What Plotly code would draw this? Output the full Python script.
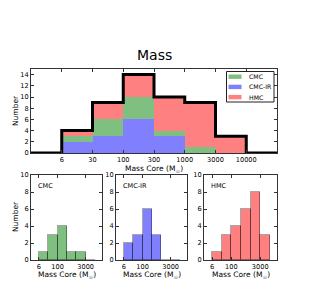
import plotly.graph_objects as go

# ---- data ----
bin_edges_labels = ["6", "30", "100", "300", "1000", "3000", "10000"]
cmc = [1, 3, 4, 1, 1, 0]
cmc_ir = [2, 3, 6, 3, 0, 0]
hmc = [1, 3, 4, 6, 8, 3]
series_names = ["CMC", "CMC-IR", "HMC"]
series_vals = [cmc, cmc_ir, hmc]
colors = {"CMC": "rgb(127,191,127)", "CMC-IR": "rgb(128,128,255)", "HMC": "rgb(255,128,128)"}
small_tick_idx = [0, 2, 5]

OFF = 8  # page body margin
W, H = 311 - OFF, 301 - OFF
FONT = "DejaVu Sans"

def px(x):
    return (x - OFF) / W

def py(y):
    return 1 - (y - OFF) / H

def xd(a, b):
    return [px(a), px(b)]

def yd(top, bottom):
    return [py(bottom), py(top)]

nb = len(cmc)
centers = [i + 0.5 for i in range(nb)]
edges = list(range(len(bin_edges_labels)))

fig = go.Figure()

stack_order = ["CMC-IR", "CMC", "HMC"]
vals = dict(zip(series_names, series_vals))
for name in stack_order:
    fig.add_trace(go.Bar(x=centers, y=vals[name], width=1, name=name,
                         marker=dict(color=colors[name], line=dict(width=0)),
                         showlegend=False, xaxis="x", yaxis="y"))

totals = [a + b + c for a, b, c in zip(cmc, cmc_ir, hmc)]
step_x = [-1] + edges + [7]
step_y = [0] + totals + [0, 0]
fig.add_trace(go.Scatter(x=step_x, y=step_y, mode="lines", line=dict(color="black", width=3, shape="hv"),
                         showlegend=False, xaxis="x", yaxis="y", cliponaxis=False))

small_axes = [("x2", "y2"), ("x3", "y3"), ("x4", "y4")]
for name, (xa, ya) in zip(series_names, small_axes):
    fig.add_trace(go.Bar(x=centers, y=vals[name], width=1, showlegend=False,
                         marker=dict(color=colors[name], line=dict(color="rgba(0,0,0,0.35)", width=1)),
                         xaxis=xa, yaxis=ya))

axcommon = dict(showline=True, linecolor="#333", linewidth=1, mirror="ticks", ticks="inside",
                ticklen=3, tickcolor="#333", showgrid=False, zeroline=False, automargin=False,
                tickfont=dict(family=FONT, size=6.6, color="black"))

fig.update_layout(
    width=W, height=H, margin=dict(l=0, r=0, t=0, b=0, autoexpand=False),
    paper_bgcolor="white", plot_bgcolor="white",
    barmode="stack", bargap=0, showlegend=False,
    font=dict(family=FONT, color="black"),
    xaxis=dict(domain=xd(31, 277), range=[-1, 7], tickvals=edges, ticktext=bin_edges_labels, anchor="y", **axcommon),
    yaxis=dict(domain=yd(69, 153), range=[0, 15], tickvals=list(range(0, 15, 2)), anchor="x", **axcommon),
    xaxis2=dict(domain=xd(31, 102), range=[-0.85, 6.75], tickvals=small_tick_idx,
                ticktext=[bin_edges_labels[i] for i in small_tick_idx], anchor="y2", **axcommon),
    yaxis2=dict(domain=yd(175, 260), range=[0, 10], tickvals=list(range(0, 11, 2)), anchor="x2", **axcommon),
    xaxis3=dict(domain=xd(116, 187), range=[-0.85, 6.75], tickvals=small_tick_idx,
                ticktext=[bin_edges_labels[i] for i in small_tick_idx], anchor="y3", **axcommon),
    yaxis3=dict(domain=yd(175, 260), range=[0, 10], tickvals=list(range(0, 11, 2)), anchor="x3", **axcommon),
    xaxis4=dict(domain=xd(204, 277), range=[-0.85, 6.75], tickvals=small_tick_idx,
                ticktext=[bin_edges_labels[i] for i in small_tick_idx], anchor="y4", **axcommon),
    yaxis4=dict(domain=yd(175, 260), range=[0, 10], tickvals=list(range(0, 11, 2)), anchor="x4", **axcommon),
)

annos = []
shapes = []
def ann(text, x, y, size, angle=0, xanchor="center"):
    annos.append(dict(text=text, x=px(x), y=py(y), xref="paper", yref="paper", showarrow=False,
                      font=dict(family=FONT, size=size, color="black"), textangle=angle,
                      xanchor=xanchor, yanchor="middle"))

ann("Mass", 154, 55, 14)
ann("Number", 15, 111, 7.5, angle=-90)
ann("Mass Core (M<sub>☉</sub>)", 154, 169, 7.5)
ann("Number", 15, 217, 7.5, angle=-90)
for (a, b), name in zip([(31, 102), (116, 187), (204, 277)], series_names):
    ann("Mass Core (M<sub>☉</sub>)", (a + b) / 2, 274.5, 7.5)
    ann(name, a + 5, 186, 6.5, xanchor="left")

# manual legend (box + swatches + labels)
shapes.append(dict(type="rect", xref="paper", yref="paper", x0=px(226.5), x1=px(274),
                   y0=py(102), y1=py(71.5), line=dict(color="#222", width=1), fillcolor="white"))
for i, name in enumerate(series_names):
    yc = 76.7 + 10.2 * i
    shapes.append(dict(type="rect", xref="paper", yref="paper", x0=px(228.5), x1=px(241.5),
                       y0=py(yc + 2.2), y1=py(yc - 2.2), line=dict(width=0),
                       fillcolor=colors[name]))
    ann(name, 247, yc, 6.2, xanchor="left")

fig.update_layout(annotations=annos, shapes=shapes)

fig.write_html("out.html")
